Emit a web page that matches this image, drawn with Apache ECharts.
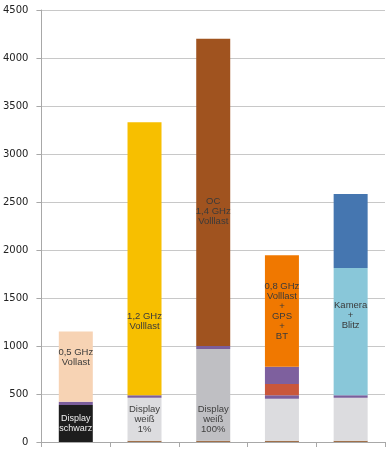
<!DOCTYPE html>
<html><head><meta charset="utf-8">
<script src="https://cdn.jsdelivr.net/npm/echarts@6/dist/echarts.min.js"></script>
<style>html,body{margin:0;padding:0;background:#fff}#c{width:391px;height:450px}</style>
</head><body><div id="c"></div>
<script>
var categories = ['A', 'B', 'C', 'D', 'E'];
var yTicks = [0, 500, 1000, 1500, 2000, 2500, 3000, 3500, 4000, 4500];
var baseLine = [0, 12, 12, 12, 12];
var display = [385, 449, 957, 439, 449];
var displayLabels = ['Display\nschwarz', 'Display\nweiß\n1%', 'Display\nweiß\n100%', '', ''];
var thinPurple = [35, 25, 31, 35, 25];
var gps = [0, 0, 0, 118, 0];
var bt = [0, 0, 0, 180, 0];
var cpu = [730, 2844, 3200, 1161, 1326];
var cpuLabels = ['0,5 GHz\nVollast', '1,2 GHz\nVolllast', 'OC\n1,4 GHz\nVolllast', '0,8 GHz\nVolllast\n+\nGPS\n+\nBT', 'Kamera\n+\nBlitz'];
var flash = [0, 0, 0, 0, 771];

var displayColors = ['#1d1d1d', '#dcdcdf', '#bfbfc3', '#dcdcdf', '#dcdcdf'];
var displayLabelColors = ['#f0f0f0', '#404040', '#404040', '#404040', '#404040'];
var displayOffsets = [0, 0, 24, 0, 0];
var cpuColors = ['#f7d3b4', '#f7bf00', '#a0531f', '#f07800', '#89c7d9'];
var cpuOffsets = [-9, 63, 19, 0, -16];

var font = 'Liberation Sans';
function lbl(text, color, dy, size) {
  return {show: !!text, position: 'inside', formatter: text, color: color,
          fontFamily: font, fontSize: size || 9.5, lineHeight: 10, offset: [0, dy]};
}
var seriesDefs = [];
seriesDefs.push({type:'bar', stack:'s', barWidth:34, data: baseLine.map(function(v){return {value:v, itemStyle:{color:'#a0704a'}};})});
seriesDefs.push({type:'bar', stack:'s', barWidth:34, data: display.map(function(v,i){
  return {value:v, itemStyle:{color:displayColors[i]}, label: lbl(displayLabels[i], displayLabelColors[i], displayOffsets[i], i === 0 ? 9 : 9.5)};})});
seriesDefs.push({type:'bar', stack:'s', barWidth:34, itemStyle:{color:'#7b5e9b'}, data: thinPurple});
seriesDefs.push({type:'bar', stack:'s', barWidth:34, itemStyle:{color:'#c9573b'}, data: gps});
seriesDefs.push({type:'bar', stack:'s', barWidth:34, itemStyle:{color:'#7e609e'}, data: bt});
seriesDefs.push({type:'bar', stack:'s', barWidth:34, data: cpu.map(function(v,i){
  return {value:v, itemStyle:{color:cpuColors[i]}, label: lbl(cpuLabels[i], '#3a3a3a', cpuOffsets[i])};})});
seriesDefs.push({type:'bar', stack:'s', barWidth:34, itemStyle:{color:'#4576b0'}, data: flash});

var chart = echarts.init(document.getElementById('c'), null, {renderer:'canvas'});
chart.setOption({
  animation: false,
  grid: {left: 39.5, right: 6, top: 10, bottom: 8, containLabel: false},
  xAxis: {type:'category', data: categories,
    axisLine:{show:true, lineStyle:{color:'#a8a8a8', width:1}},
    axisTick:{show:true, length:5, lineStyle:{color:'#a8a8a8'}},
    axisLabel:{show:false}},
  yAxis: {type:'value', min: yTicks[0], max: yTicks[yTicks.length-1], interval: 500,
    axisLine:{show:true, lineStyle:{color:'#a8a8a8', width:1}},
    axisTick:{show:true, length:5, lineStyle:{color:'#a8a8a8'}},
    splitLine:{show:true, lineStyle:{color:'#c8c8c8', width:1}},
    axisLabel:{color:'#222', fontFamily:'DejaVu Sans', fontSize:10, margin:13,
      formatter: function(v){ return String(v); }}},
  series: seriesDefs
});
</script></body></html>
